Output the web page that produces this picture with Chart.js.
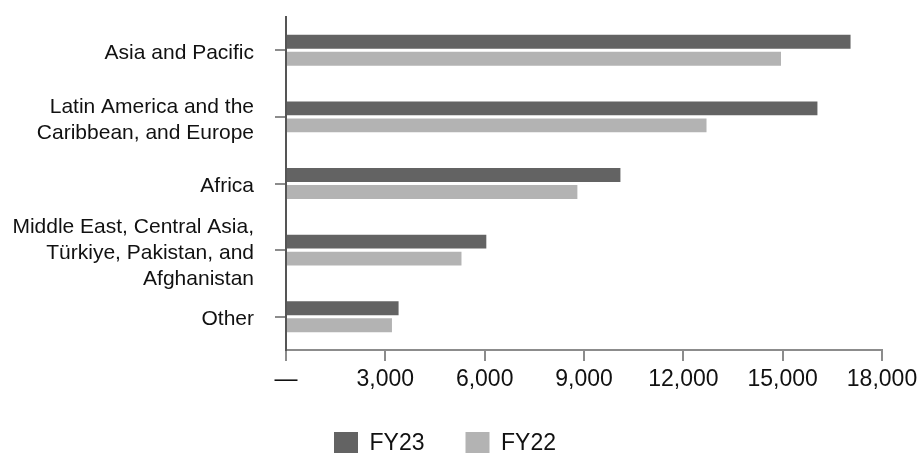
<!DOCTYPE html>
<html>
<head>
<meta charset="utf-8">
<title>Regions FY23 vs FY22</title>
<script src="https://cdn.jsdelivr.net/npm/chart.js@4"></script>
<style>
  html, body { margin: 0; padding: 0; background: #fff; overflow: hidden; }
  #chart { display: block; }
</style>
</head>
<body>
<canvas id="chart" width="918" height="453"></canvas>
<script>
// regions, top to bottom
const regions = [
  'Asia and Pacific',
  ['Latin America and the', 'Caribbean, and Europe'],
  'Africa',
  ['Middle East, Central Asia,', 'Türkiye, Pakistan, and', 'Afghanistan'],
  'Other'
];
const fy23 = [17050, 16050, 10100, 6050, 3400];
const fy22 = [14950, 12700, 8800, 5300, 3200];
const xTickLabels = ['—', '3,000', '6,000', '9,000', '12,000', '15,000', '18,000'];

const textColor = '#111';
const font = 'Liberation Sans, Arial, sans-serif';

// region labels sit a few px below the tick in the original
function nudgeLabels(scale) {
  if (scale._nudged) return;
  scale._nudged = true;
  const base = scale._computeLabelItems;
  scale._computeLabelItems = function (area) {
    const items = base.call(this, area);
    items.forEach(it => {
      if (it.options && it.options.translation) it.options.translation[1] += 3;
    });
    return items;
  };
}

const ctx = document.getElementById('chart').getContext('2d');
new Chart(ctx, {
  type: 'bar',
  data: {
    labels: regions,
    datasets: [
      { label: 'FY23', data: fy23, backgroundColor: '#636363' },
      { label: 'FY22', data: fy22, backgroundColor: '#b3b3b3' }
    ]
  },
  options: {
    indexAxis: 'y',
    responsive: false,
    animation: false,
    devicePixelRatio: 1,
    categoryPercentage: 0.51,
    barPercentage: 0.82,
    layout: { padding: { top: 17, left: 0, right: 28, bottom: -13 } },
    plugins: {
      tooltip: { enabled: false },
      legend: {
        position: 'bottom',
        labels: {
          boxWidth: 24,
          boxHeight: 24,
          padding: 41,
          color: textColor,
          font: { family: font, size: 23 }
        }
      }
    },
    scales: {
      x: {
        min: 0,
        max: 18000,
        ticks: {
          stepSize: 3000,
          padding: 5,
          color: textColor,
          font: { family: font, size: 23 },
          maxRotation: 0,
          callback: (v, i) => xTickLabels[i]
        },
        grid: { drawOnChartArea: false, drawTicks: true, tickLength: 11, color: '#8c8c8c', lineWidth: 2 },
        border: { color: '#8c8c8c', width: 2 },
        afterFit: (scale) => {
          scale.height = 41;
          scale.paddingRight = 36;
        }
      },
      y: {
        ticks: {
          autoSkip: false,
          padding: 21,
          color: textColor,
          font: { family: font, size: 21, lineHeight: 1.22 }
        },
        grid: { offset: false, drawOnChartArea: false, drawTicks: true, tickLength: 11, color: '#8c8c8c', lineWidth: 2 },
        border: { color: '#555', width: 2 },
        afterFit: (scale) => {
          scale.width = 286;
          scale.paddingTop = 0;
          scale.paddingBottom = 0;
        },
        afterUpdate: nudgeLabels
      }
    }
  }
});
</script>
</body>
</html>
